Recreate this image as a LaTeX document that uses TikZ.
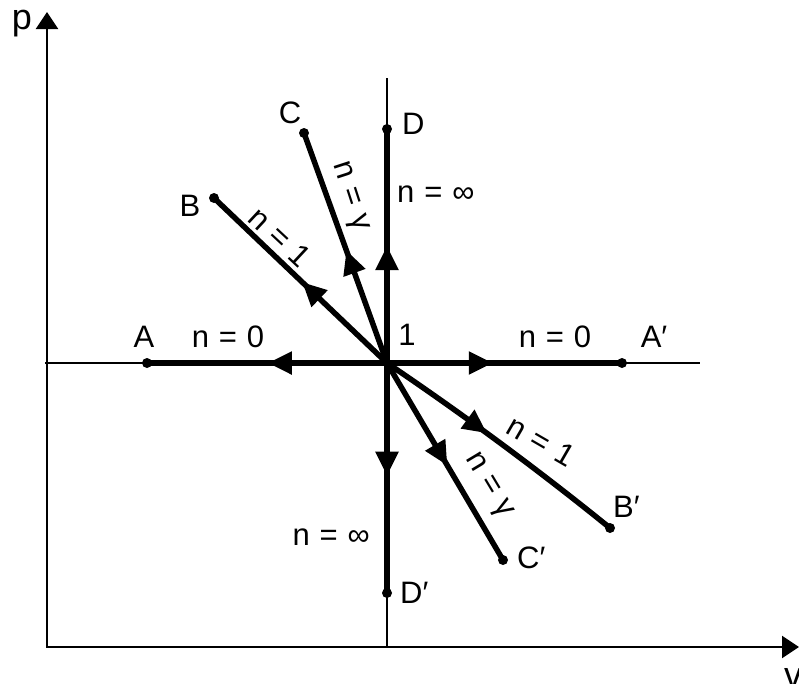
\documentclass[tikz,border=0pt]{standalone}
\usepackage{fontspec}
\setmainfont{Liberation Sans}
\usetikzlibrary{arrows.meta,decorations.markings}
\newcommand\myeq[1]{n\kern.32em=\kern.32em#1}
\begin{document}
\begin{tikzpicture}[x=1pt,y=-1pt,
  lbl/.style={font=\fontsize{31}{35}\selectfont, inner sep=0pt},
  biglbl/.style={font=\fontsize{36}{40}\selectfont, inner sep=0pt},
  thickln/.style={line width=5.5pt},
  thinln/.style={line width=1.6pt},
  axisln/.style={line width=2.4pt},
  dot/.style={circle, fill, inner sep=0pt, minimum size=10pt},
  midarrow/.style={postaction={decorate, decoration={markings,
     mark=at position #1 with {\arrow{Triangle[length=24pt,width=22pt]}}}}},
]
\useasboundingbox (0,0) rectangle (799,683);
% axes
\coordinate (ax0) at (47,647);
\coordinate (pTip) at (47,12);
\coordinate (vTip) at (799,647);
\draw[axisln, {Triangle[length=17pt,width=22pt]}-{Triangle[length=17pt,width=22pt]}] (pTip) -- (ax0) -- (vTip);
\node[biglbl, anchor=base] (lp) at (22,29) {p};
\node[biglbl, anchor=base] (lv) at (793,687) {v};
% thin reference lines
\coordinate (hL) at (45,363);
\coordinate (hR) at (700,363);
\coordinate (vT) at (387,78);
\coordinate (vB) at (387,647);
\draw[thinln] (hL) -- (hR);
\draw[thinln] (vT) -- (vB);
% points
\coordinate (O) at (387,363);
\node[dot] (A) at (147,363) {};
\node[dot] (A2) at (622,363) {};
\node[dot] (D) at (387,129) {};
\node[dot] (D2) at (387,593) {};
\node[dot] (C) at (304,133) {};
\node[dot] (C2) at (503,560) {};
\node[dot] (B) at (214,198) {};
\node[dot] (B2) at (610,528) {};
% process lines
\draw[thickln, midarrow=0.496] (O) -- (A.center);
\draw[thickln, midarrow=0.45] (O) -- (A2.center);
\draw[thickln, midarrow=0.50] (O) -- (D.center);
\draw[thickln, midarrow=0.49] (O) -- (D2.center);
\draw[thickln, midarrow=0.49] (O) -- (B.center);
\draw[thickln, midarrow=0.49] (O) -- (C.center);
\draw[thickln, midarrow=0.44] (O) .. controls (461,413) and (536,468) .. (B2.center);
\draw[thickln, midarrow=0.52] (O) -- (C2.center);
% labels
\node[lbl, anchor=base] (lA) at (144,347) {A};
\node[lbl, anchor=base] (lnA) at (228,347) {\myeq{0}};
\node[lbl, anchor=base] (l1) at (407,345) {1};
\node[lbl, anchor=base] (lnA2) at (555,347) {\myeq{0}};
\node[lbl, anchor=base] (lA2) at (654,347) {A′};
\node[lbl, anchor=base west] (lD) at (402,134) {D};
\node[lbl, anchor=base west] (lnD) at (397,202) {\myeq{∞}};
\node[lbl, anchor=base] (lC) at (290,123) {C};
\node[lbl, anchor=base] (lB) at (190,216) {B};
\node[lbl, anchor=base west] (lD2) at (400,603) {D′};
\node[lbl, anchor=base east] (lnD2) at (370,545) {\myeq{∞}};
\node[lbl, anchor=base west] (lB2) at (613,517) {B′};
\node[lbl, anchor=base west] (lC2) at (517,568) {C′};
\node[lbl, rotate=-72] (lnC) at (349,197) {\myeq{γ}};
\node[lbl, rotate=-43] (lnB) at (280,237) {\myeq{1}};
\node[lbl, rotate=-30] (lnB2) at (541,441) {\myeq{1}};
\node[lbl, rotate=-59] (lnC2) at (488,486) {\myeq{γ}};
\end{tikzpicture}
\end{document}
